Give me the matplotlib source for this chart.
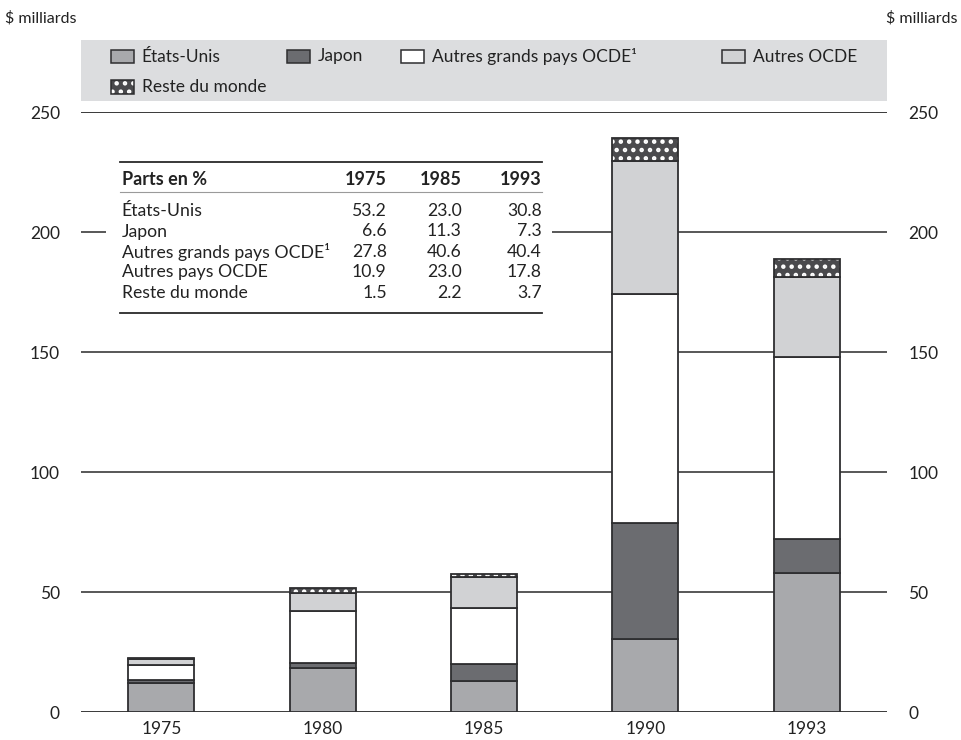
import numpy as np
import matplotlib
matplotlib.use('Agg')
import matplotlib.pyplot as plt
from matplotlib.patches import Rectangle

plt.rcParams['font.family'] = ['Lato', 'DejaVu Sans']
plt.rcParams['hatch.linewidth'] = 2.0

# chart data ($ milliards)
years = ['1975', '1980', '1985', '1990', '1993']
etats_unis = [12.1, 18.3, 13.0, 30.7, 58.2]
japon = [1.5, 2.4, 7.1, 48.0, 13.9]
autres_grands = [6.3, 21.5, 23.2, 95.5, 75.9]
autres_ocde = [2.5, 7.6, 12.9, 55.5, 33.4]
reste_monde = [0.4, 2.0, 1.3, 9.7, 7.6]

series_names = ['États-Unis', 'Japon', 'Autres grands pays OCDE¹', 'Autres OCDE', 'Reste du monde']
series_colors = ['#a8a9ac', '#6b6c70', '#ffffff', '#d1d2d4', '#4a4a4d']

# inset table
table_header = ['Parts en %', '1975', '1985', '1993']
table_rows = ['États-Unis', 'Japon', 'Autres grands pays OCDE¹', 'Autres pays OCDE', 'Reste du monde']
table_1975 = ['53.2', '6.6', '27.8', '10.9', '1.5']
table_1985 = ['23.0', '11.3', '40.6', '23.0', '2.2']
table_1993 = ['30.8', '7.3', '40.4', '17.8', '3.7']

W, H = 961, 740
edge = '#2e2e30'
txt = '#222222'


def fx(x):
    return x / W


def fy(y):
    return 1 - y / H


fig = plt.figure(figsize=(9.61, 7.40), dpi=100)
ax = fig.add_axes([fx(80.7), fy(712.3), fx(887.3) - fx(80.7), fy(112.3) - fy(712.3)])

x = np.arange(len(years))
bw = 0.41
bottom = np.zeros(len(years))
for vals, name, col in zip([etats_unis, japon, autres_grands, autres_ocde, reste_monde],
                           series_names, series_colors):
    if name == 'Reste du monde':
        ax.bar(x, vals, bw, bottom=bottom, color=col, edgecolor='white',
               hatch='..', linewidth=0, zorder=3)
        ax.bar(x, vals, bw, bottom=bottom, fill=False, edgecolor=edge,
               linewidth=1.3, zorder=4)
    else:
        ax.bar(x, vals, bw, bottom=bottom, color=col, edgecolor=edge,
               linewidth=1.3, zorder=3)
    bottom += np.array(vals)

for yv in range(0, 251, 50):
    ax.axhline(yv, color='#2a2a2a', lw=1.3 if yv in (0, 250) else 1.1, zorder=1)

ax.set_xlim(-0.5, 4.5)
ax.set_ylim(0, 250)
ax.set_xticks(x)
ax.set_xticklabels(years)
ax.set_yticks(range(0, 251, 50))
ax.tick_params(axis='y', left=False, right=False, labelleft=True, labelright=True,
               pad=11.5, labelsize=12.5, colors=txt)
ax.tick_params(axis='x', bottom=False, pad=3, labelsize=12.5, colors=txt)
for s in ax.spines.values():
    s.set_visible(False)
ax.patch.set_alpha(0)

fig.text(fx(5), fy(18), '$ milliards', ha='left', va='center', fontsize=11.5, color=txt)
fig.text(fx(958), fy(18), '$ milliards', ha='right', va='center', fontsize=11.5, color=txt)

# legend block
fig.add_artist(Rectangle((fx(80.7), fy(100.7)), fx(887.3) - fx(80.7), fy(40) - fy(100.7),
                         transform=fig.transFigure, facecolor='#dcdddf', edgecolor='none', zorder=1))
leg_pos = [(110.7, 56.5), (286.7, 56.5), (400.7, 56.5), (721.7, 56.5), (110.7, 87)]
for (lx, ly), name, col in zip(leg_pos, series_names, series_colors):
    if name == 'Reste du monde':
        fig.add_artist(Rectangle((fx(lx), fy(ly + 6.5)), fx(23), 13 / H, transform=fig.transFigure,
                                 facecolor=col, edgecolor='white', hatch='..', lw=0, zorder=2))
        fig.add_artist(Rectangle((fx(lx), fy(ly + 6.5)), fx(23), 13 / H, transform=fig.transFigure,
                                 fill=False, edgecolor=edge, lw=1.1, zorder=3))
    else:
        fig.add_artist(Rectangle((fx(lx), fy(ly + 6.5)), fx(23), 13 / H, transform=fig.transFigure,
                                 facecolor=col, edgecolor=edge, lw=1.1, zorder=2))
    fig.text(fx(lx + 31), fy(ly), name, ha='left', va='center', fontsize=12.5,
             color=txt, zorder=3)

# inset table
fig.add_artist(Rectangle((fx(106), fy(320)), fx(552) - fx(106), fy(152) - fy(320),
                         transform=fig.transFigure, facecolor='white', edgecolor='none', zorder=2))
for ry, lw, lc in [(161.5, 1.3, '#2a2a2a'), (192, 0.8, '#9a9a9a'), (313, 1.3, '#2a2a2a')]:
    fig.add_artist(plt.Line2D([fx(120), fx(542)], [fy(ry), fy(ry)], transform=fig.transFigure,
                              color=lc, lw=lw, zorder=3))
col_x = [121.7, 386.7, 461.7, 541.7]
hy = 179.5
for i, h in enumerate(table_header):
    fig.text(fx(col_x[i]), fy(hy), h, ha='left' if i == 0 else 'right', va='center',
             fontsize=13, fontweight='bold', color=txt, zorder=4)
row_y = [210.5, 231.5, 252, 272.5, 293]
for r, ry in enumerate(row_y):
    fig.text(fx(col_x[0]), fy(ry), table_rows[r], ha='left', va='center', fontsize=12.7,
             color=txt, zorder=4)
    for c, vals in enumerate([table_1975, table_1985, table_1993]):
        fig.text(fx(col_x[c + 1]), fy(ry), vals[r], ha='right', va='center', fontsize=12.7,
                 color=txt, zorder=4)

fig.savefig('out.png', dpi=100)
